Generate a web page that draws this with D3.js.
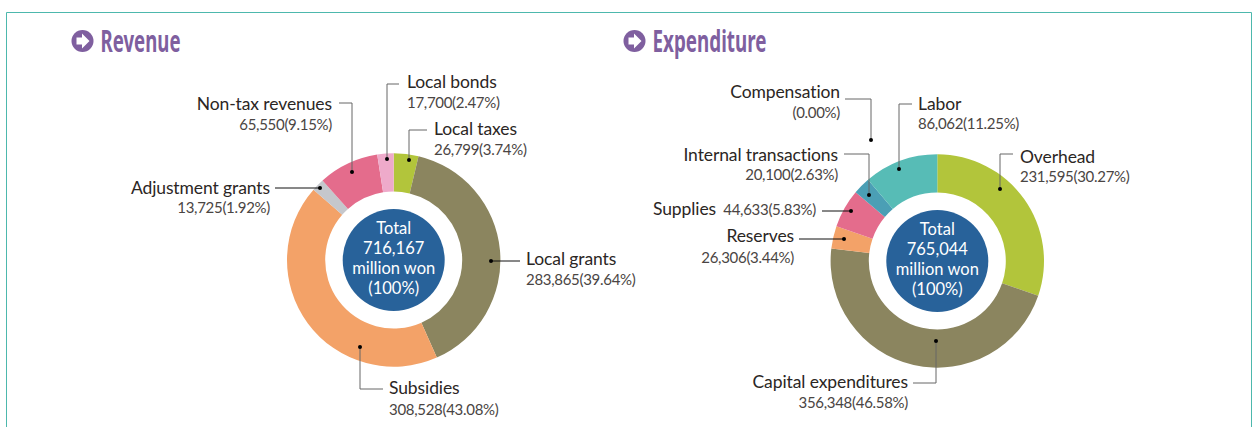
<!DOCTYPE html>
<html>
<head>
<meta charset="utf-8">
<style>
    html, body { margin: 0; padding: 0; background: #fff; }
    svg { display: block; }
    text { font-family: Lato, "Noto Sans", sans-serif; }
    .name { font-size: 17.5px; fill: #2b2624; letter-spacing: -0.1px; }
    .val { font-size: 15px; fill: #4a4543; letter-spacing: -0.3px; }
    .total { font-size: 16.5px; fill: #fff; text-anchor: middle; }
    .title { font-family: "Noto Sans", sans-serif; font-size: 29.5px; font-weight: 700; fill: #7f5f9f; }
</style>
</head>
<body>
<svg width="1254" height="427"></svg>
<script src="https://d3js.org/d3.v7.min.js"></script>
<script>

    // Revenue
    var revCats = ["Local taxes", "Local grants", "Subsidies", "Adjustment grants", "Non-tax revenues", "Local bonds"];
    var revVals = [26799, 283865, 308528, 13725, 65550, 17700];
    var revPcts = ["3.74", "39.64", "43.08", "1.92", "9.15", "2.47"];
    var revColors = ["#b2c53b", "#8b855f", "#f3a268", "#c5c7cc", "#e46c8c", "#eeaaca"];
    var revTotal = ["Total", "716,167", "million won", "(100%)"];

    // Expenditure
    var expCats = ["Overhead", "Capital expenditures", "Reserves", "Supplies", "Internal transactions", "Compensation", "Labor"];
    var expVals = [231595, 356348, 26306, 44633, 20100, 0, 86062];
    var expPcts = ["30.27", "46.58", "3.44", "5.83", "2.63", "0.00", "11.25"];
    var expColors = ["#b2c53b", "#8b855f", "#f3a268", "#e46c8c", "#4b9fb5", "#999999", "#57bcb6"];
    var expTotal = ["Total", "765,044", "million won", "(100%)"];

    // label placement, same order as the categories: x, anchor, name baseline, value baseline, leader points
    var revLayout = [
        { x: 434, a: "start", y1: 135, y2: 155, dark: false, path: [[409, 160], [409, 130], [427, 130]] },
        { x: 526, a: "start", y1: 265, y2: 285, dark: true, path: [[491, 261], [520, 261]] },
        { x: 389, a: "start", y1: 394, y2: 415, dark: false, path: [[360, 347], [360, 389], [383, 389]] },
        { x: 270, a: "end", y1: 194, y2: 213, dark: true, path: [[320, 188], [275, 188]] },
        { x: 332, a: "end", y1: 110, y2: 130, dark: false, path: [[352, 172], [352, 103], [339, 103]] },
        { x: 407, a: "start", y1: 88, y2: 108, dark: false, path: [[387, 159], [387, 84], [399, 84]] }
    ];
    var expLayout = [
        { x: 1020, a: "start", y1: 163, y2: 182, dark: false, path: [[1000, 189], [1000, 154], [1013, 154]] },
        { x: 908, a: "end", y1: 388, y2: 408, dark: false, path: [[936, 341], [936, 383], [913, 383]] },
        { x: 794, a: "end", y1: 242, y2: 263, dark: true, path: [[844, 239], [799, 239]] },
        { x: 716, a: "end", y1: 215, x2: 816, y2: 215, dark: true, path: [[851, 211], [822, 211]] },
        { x: 838, a: "end", y1: 161, y2: 180, dark: false, path: [[869, 195], [869, 154], [844, 154]] },
        { x: 840, a: "end", y1: 98, y2: 118, dark: false, path: [[871, 140], [871, 99], [845, 99]] },
        { x: 918, a: "start", y1: 110, y2: 129, dark: false, path: [[899, 169], [899, 104], [912, 104]] }
    ];

    var svg = d3.select("svg");

    // frame, open at the bottom
    svg.append("path")
        .attr("d", "M6.5,427V12.5H1251.5V427")
        .attr("fill", "none")
        .attr("stroke", "#4db8ad")
        .attr("stroke-width", 1);

    var pie = d3.pie().sort(null);
    var arc = d3.arc().innerRadius(68.5).outerRadius(106.7);

    function drawTitle(label, x, w) {
        var g = svg.append("g").attr("transform", "translate(" + x + ",41)");
        g.append("circle").attr("r", 11).attr("fill", "#7f5f9f");
        g.append("path")
            .attr("d", "M-6,-3.5H-0.5V-7.5L7,0L-0.5,7.5V3.5H-6Z")
            .attr("fill", "#fff");
        g.append("text")
            .attr("class", "title")
            .attr("x", 18)
            .attr("y", 10.5)
            .attr("textLength", w)
            .attr("lengthAdjust", "spacingAndGlyphs")
            .text(label);
    }

    function drawDonut(cx, cy, cats, vals, pcts, colors, total, layout) {
        var g = svg.append("g").attr("transform", "translate(" + cx + "," + cy + ")");

        g.selectAll("path")
            .data(pie(vals))
            .enter().append("path")
            .attr("d", arc)
            .attr("fill", function (d, i) { return colors[i]; });

        g.append("circle").attr("r", 51).attr("fill", "#28629a");

        g.selectAll("text")
            .data(total)
            .enter().append("text")
            .attr("class", "total")
            .attr("y", function (d, i) { return -26 + i * 20; })
            .text(function (d) { return d; });

        var line = d3.line();
        var labels = svg.append("g").selectAll("g")
            .data(layout)
            .enter().append("g");

        labels.append("path")
            .attr("d", function (d) { return line(d.path); })
            .attr("fill", "none")
            .attr("stroke", function (d) { return d.dark ? "#111" : "#666"; })
            .attr("stroke-width", 1);

        labels.append("circle")
            .attr("cx", function (d) { return d.path[0][0]; })
            .attr("cy", function (d) { return d.path[0][1]; })
            .attr("r", 2)
            .attr("fill", "#000");

        labels.append("text")
            .attr("class", "name")
            .attr("x", function (d) { return d.x; })
            .attr("y", function (d) { return d.y1; })
            .attr("text-anchor", function (d) { return d.a; })
            .text(function (d, i) { return cats[i]; });

        labels.append("text")
            .attr("class", "val")
            .attr("x", function (d) { return d.x2 || d.x; })
            .attr("y", function (d) { return d.y2; })
            .attr("text-anchor", function (d) { return d.a; })
            .text(function (d, i) {
                var v = vals[i] ? d3.format(",")(vals[i]) : "";
                return v + "(" + pcts[i] + "%)";
            });
    }

    drawTitle("Revenue", 82.5, 80);
    drawTitle("Expenditure", 634.5, 114);

    drawDonut(393.7, 260, revCats, revVals, revPcts, revColors, revTotal, revLayout);
    drawDonut(937.3, 261, expCats, expVals, expPcts, expColors, expTotal, expLayout);

</script>
</body>
</html>
